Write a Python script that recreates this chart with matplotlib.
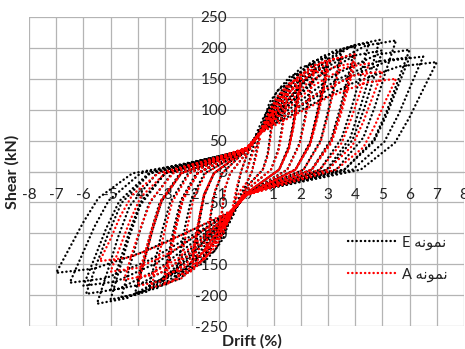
import matplotlib
matplotlib.use("Agg")
import matplotlib.pyplot as plt
import numpy as np

# ---- data: hysteresis cycles (drift %, shear kN), vertices ----
# Specimen E (black)
E_c01 = [(0, 0), (0.25, 40), (0.5, 70), (0.35, 30), (0.2, 0), (0, -20), (-0.25, -40), (-0.5, -70), (-0.35, -30), (-0.2, 0)]
E_c02 = [(0, 25), (0.3, 55), (0.6, 85), (0.85, 105), (1.0, 110), (0.93, 82), (0.86, 55), (0.78, 29), (0.6, 3),
         (0, -25), (-0.3, -53), (-0.6, -81), (-0.85, -100), (-1.0, -105), (-0.93, -79), (-0.86, -52), (-0.78, -27), (-0.6, -3)]
E_c03 = [(0, 30), (0.5, 65), (0.85, 112), (1.2, 134), (1.5, 140), (1.4, 105), (1.3, 70), (1.17, 36), (0.9, 3),
         (0, -30), (-0.5, -63), (-0.85, -108), (-1.2, -130), (-1.5, -135), (-1.4, -101), (-1.3, -68), (-1.17, -35), (-0.9, -3)]
E_c04 = [(0, 35), (0.5, 65), (1.1, 128), (1.6, 154), (2.0, 160), (1.86, 120), (1.72, 80), (1.56, 42), (1.2, 3),
         (0, -35), (-0.5, -65), (-1.1, -124), (-1.6, -149), (-2.0, -155), (-1.86, -116), (-1.72, -78), (-1.56, -40), (-1.2, -3)]
E_c05 = [(0, 35), (0.5, 62), (1.1, 118), (1.6, 142), (2.0, 148), (1.86, 111), (1.72, 74), (1.56, 38), (1.2, 3),
         (0, -35), (-0.5, -62), (-1.1, -114), (-1.6, -137), (-2.0, -143), (-1.86, -107), (-1.72, -72), (-1.56, -37), (-1.2, -3)]
E_c06 = [(0, 35), (0.5, 65), (1.4, 140), (2.0, 168), (2.5, 175), (2.33, 131), (2.15, 88), (1.95, 46), (1.5, 3),
         (0, -35), (-0.5, -65), (-1.45, -136), (-2.1, -163), (-2.6, -170), (-2.42, -128), (-2.24, -85), (-2.03, -44), (-1.55, -3)]
E_c07 = [(0, 35), (0.5, 65), (1.65, 148), (2.4, 178), (3.0, 185), (2.8, 139), (2.58, 93), (2.34, 48), (1.8, 3),
         (0, -35), (-0.5, -65), (-1.7, -146), (-2.5, -175), (-3.1, -182), (-2.88, -137), (-2.67, -91), (-2.42, -47), (-1.85, -3)]
E_c08 = [(0, 35), (0.5, 62), (1.65, 136), (2.4, 163), (3.0, 170), (2.8, 128), (2.58, 85), (2.34, 44), (1.8, 3),
         (0, -35), (-0.5, -62), (-1.65, -134), (-2.4, -161), (-3.0, -168), (-2.8, -126), (-2.58, -84), (-2.34, -44), (-1.8, -3)]
E_c09 = [(0, 35), (0.5, 65), (1.9, 156), (2.8, 187), (3.5, 195), (3.25, 146), (3.0, 98), (2.73, 51), (2.1, 3),
         (0, -35), (-0.5, -65), (-2.0, -152), (-2.9, -182), (-3.6, -190), (-3.35, -143), (-3.1, -95), (-2.8, -49), (-2.15, -3)]
E_c10 = [(0, 35), (0.5, 65), (2.2, 162), (3.2, 195), (4.0, 203), (3.72, 152), (3.44, 102), (3.12, 53), (2.4, 3),
         (0, -35), (-0.5, -65), (-2.25, -158), (-3.3, -189), (-4.1, -197), (-3.8, -148), (-3.52, -99), (-3.2, -51), (-2.45, -3)]
E_c11 = [(0, 35), (0.5, 62), (2.2, 150), (3.2, 180), (4.0, 188), (3.72, 141), (3.44, 94), (3.12, 49), (2.4, 3),
         (0, -35), (-0.5, -62), (-2.2, -146), (-3.2, -176), (-4.0, -183), (-3.72, -137), (-3.44, -92), (-3.12, -48), (-2.4, -3)]
E_c12 = [(0, 35), (0.5, 65), (2.5, 166), (3.6, 200), (4.5, 208), (4.2, 156), (3.87, 104), (3.5, 54), (2.7, 3),
         (0, -35), (-0.5, -65), (-2.55, -162), (-3.7, -195), (-4.6, -203), (-4.28, -152), (-3.96, -102), (-3.6, -53), (-2.75, -3)]
E_c13 = [(0, 35), (0.5, 65), (2.7, 170), (3.9, 204), (4.9, 213), (4.56, 160), (4.2, 106), (3.82, 55), (2.95, 3),
         (0, -35), (-0.5, -65), (-2.75, -166), (-4.0, -199), (-5.0, -207), (-4.65, -155), (-4.3, -104), (-3.9, -54), (-3.0, -3)]
E_c14 = [(0, 35), (0.5, 62), (2.75, 157), (4.0, 188), (5.0, 196), (4.65, 147), (4.3, 98), (3.9, 51), (3.0, 3),
         (0, -35), (-0.5, -62), (-2.75, -154), (-4.0, -184), (-5.0, -192), (-4.65, -144), (-4.3, -96), (-3.9, -50), (-3.0, -3)]
E_c15 = [(0, 35), (0.5, 65), (3.0, 170), (4.4, 204), (5.5, 212), (5.1, 159), (4.73, 106), (4.3, 55), (3.3, 3),
         (0, -35), (-0.5, -65), (-3.0, -171), (-4.4, -205), (-5.5, -214), (-5.1, -160), (-4.73, -107), (-4.3, -56), (-3.3, -3)]
E_c16 = [(0, 35), (0.5, 65), (3.3, 158), (4.8, 189), (6.0, 197), (5.58, 148), (5.16, 98), (4.68, 51), (3.6, 3),
         (0, -35), (-0.5, -65), (-3.25, -158), (-4.7, -190), (-5.9, -198), (-5.5, -148), (-5.07, -99), (-4.6, -51), (-3.55, -3)]
E_c17 = [(0, 35), (0.5, 62), (3.3, 148), (4.8, 178), (6.0, 185), (5.58, 139), (5.16, 92), (4.68, 48), (3.6, 3),
         (0, -35), (-0.5, -62), (-3.3, -148), (-4.8, -178), (-6.0, -185), (-5.58, -139), (-5.16, -92), (-4.68, -48), (-3.6, -3)]
E_c18 = [(0, 35), (0.5, 65), (3.6, 149), (5.2, 179), (6.5, 186), (6.05, 140), (5.6, 93), (5.07, 48), (3.9, 3),
         (0, -35), (-0.5, -65), (-3.6, -144), (-5.2, -173), (-6.5, -180), (-6.05, -135), (-5.6, -90), (-5.07, -47), (-3.9, -3)]
E_c19 = [(0, 35), (0.5, 65), (3.85, 142), (5.6, 170), (7.0, 177), (6.5, 133), (6.0, 88), (5.45, 46), (4.2, 3),
         (0, -35), (-0.5, -65), (-3.85, -131), (-5.6, -157), (-7.0, -164), (-6.5, -123), (-6.0, -82), (-5.45, -43), (-4.2, -3),
         (0, 30)]

# Specimen A (red)
A_c01 = [(0, 0), (0.25, 32), (0.5, 55), (0.35, 24), (0.2, 0), (0, -18), (-0.25, -32), (-0.5, -55), (-0.35, -24), (-0.2, 0)]
A_c02 = [(0, 25), (0.3, 50), (0.6, 75), (0.85, 91), (1.0, 95), (0.93, 71), (0.86, 48), (0.78, 25), (0.6, 3),
         (0, -25), (-0.3, -50), (-0.6, -75), (-0.85, -91), (-1.0, -95), (-0.93, -71), (-0.86, -48), (-0.78, -25), (-0.6, -3)]
A_c03 = [(0, 30), (0.5, 62), (0.85, 100), (1.2, 120), (1.5, 125), (1.4, 94), (1.3, 62), (1.17, 32), (0.9, 3),
         (0, -30), (-0.5, -62), (-0.85, -100), (-1.2, -120), (-1.5, -125), (-1.4, -94), (-1.3, -62), (-1.17, -32), (-0.9, -3)]
A_c04 = [(0, 35), (0.5, 62), (1.1, 120), (1.6, 144), (2.0, 150), (1.86, 112), (1.72, 75), (1.56, 39), (1.2, 3),
         (0, -35), (-0.5, -62), (-1.1, -120), (-1.6, -144), (-2.0, -150), (-1.86, -112), (-1.72, -75), (-1.56, -39), (-1.2, -3)]
A_c05 = [(0, 35), (0.5, 60), (1.1, 110), (1.6, 132), (2.0, 138), (1.86, 103), (1.72, 69), (1.56, 36), (1.2, 3),
         (0, -35), (-0.5, -60), (-1.1, -110), (-1.6, -132), (-2.0, -138), (-1.86, -103), (-1.72, -69), (-1.56, -36), (-1.2, -3)]
A_c06 = [(0, 38), (0.5, 62), (1.4, 132), (2.0, 158), (2.5, 165), (2.33, 124), (2.15, 82), (1.95, 43), (1.5, 3),
         (0, -38), (-0.5, -62), (-1.4, -134), (-2.0, -161), (-2.5, -168), (-2.33, -126), (-2.15, -84), (-1.95, -44), (-1.5, -3)]
A_c07 = [(0, 38), (0.5, 62), (1.65, 142), (2.4, 171), (3.0, 178), (2.8, 133), (2.58, 89), (2.34, 46), (1.8, 3),
         (0, -38), (-0.5, -62), (-1.65, -144), (-2.4, -173), (-3.0, -180), (-2.8, -135), (-2.58, -90), (-2.34, -47), (-1.8, -3)]
A_c08 = [(0, 38), (0.5, 60), (1.65, 132), (2.4, 158), (3.0, 165), (2.8, 124), (2.58, 82), (2.34, 43), (1.8, 3),
         (0, -38), (-0.5, -60), (-1.65, -133), (-2.4, -159), (-3.0, -166), (-2.8, -125), (-2.58, -83), (-2.34, -43), (-1.8, -3)]
A_c09 = [(0, 38), (0.5, 62), (1.9, 148), (2.8, 178), (3.5, 185), (3.25, 139), (3.0, 92), (2.73, 48), (2.1, 3),
         (0, -38), (-0.5, -62), (-1.9, -150), (-2.8, -180), (-3.5, -188), (-3.25, -141), (-3.0, -94), (-2.73, -49), (-2.1, -3)]
A_c10 = [(0, 38), (0.5, 62), (2.2, 152), (3.2, 182), (4.0, 190), (3.72, 142), (3.44, 95), (3.12, 49), (2.4, 3),
         (0, -38), (-0.5, -62), (-2.2, -148), (-3.2, -178), (-4.0, -185), (-3.72, -139), (-3.44, -92), (-3.12, -48), (-2.4, -3)]
A_c11 = [(0, 38), (0.5, 60), (2.2, 141), (3.2, 169), (4.0, 176), (3.72, 132), (3.44, 88), (3.12, 46), (2.4, 3),
         (0, -38), (-0.5, -60), (-2.2, -138), (-3.2, -165), (-4.0, -172), (-3.72, -129), (-3.44, -86), (-3.12, -45), (-2.4, -3)]
A_c12 = [(0, 38), (0.5, 62), (2.5, 140), (3.6, 168), (4.5, 175), (4.2, 131), (3.87, 88), (3.5, 46), (2.7, 3),
         (0, -38), (-0.5, -62), (-2.5, -140), (-3.6, -168), (-4.5, -175), (-4.2, -131), (-3.87, -88), (-3.5, -46), (-2.7, -3)]
A_c13 = [(0, 38), (0.5, 62), (2.75, 130), (4.0, 156), (5.0, 162), (4.65, 122), (4.3, 81), (3.9, 42), (3.0, 3),
         (0, -38), (-0.5, -62), (-2.75, -130), (-4.0, -156), (-5.0, -162), (-4.65, -122), (-4.3, -81), (-3.9, -42), (-3.0, -3)]
A_c14 = [(0, 38), (0.5, 62), (3.0, 120), (4.4, 144), (5.5, 150), (5.1, 113), (4.73, 75), (4.3, 39), (3.3, 3),
         (0, -38), (-0.5, -62), (-3.0, -116), (-4.3, -139), (-5.4, -145), (-5.0, -109), (-4.65, -73), (-4.2, -38), (-3.25, -3),
         (0, 35)]

E_cycles = [E_c01, E_c02, E_c03, E_c04, E_c05, E_c06, E_c07, E_c08, E_c09, E_c10,
            E_c11, E_c12, E_c13, E_c14, E_c15, E_c16, E_c17, E_c18, E_c19]
A_cycles = [A_c01, A_c02, A_c03, A_c04, A_c05, A_c06, A_c07, A_c08, A_c09, A_c10,
            A_c11, A_c12, A_c13, A_c14]

x_ticks = [-8, -7, -6, -5, -4, -3, -2, -1, 0, 1, 2, 3, 4, 5, 6, 7, 8]
y_ticks = [-250, -200, -150, -100, -50, 0, 50, 100, 150, 200, 250]
label_E = "E \uFEEA\uFEE7\uFEEE\uFEE4\uFEE7"   # نمونه E (visual order)
label_A = "A \uFEEA\uFEE7\uFEEE\uFEE4\uFEE7"   # نمونه A (visual order)

plt.rcParams['font.family'] = ['Lato', 'DejaVu Sans']

E_path = np.array([p for c in E_cycles for p in c], dtype=float)
A_path = np.array([p for c in A_cycles for p in c], dtype=float)

fig = plt.figure(figsize=(4.65, 3.49), dpi=100)
ax = fig.add_axes([29/465, 1 - 326/349, 435/465, 309/349])

dot = (0, (0.1, 1.7))
ax.plot(E_path[:, 0], E_path[:, 1], color='black', lw=1.7, linestyle=dot,
        dash_capstyle='round', solid_joinstyle='round', label=label_E, zorder=3)
ax.plot(A_path[:, 0], A_path[:, 1], color='#FF0000', lw=1.7, linestyle=dot,
        dash_capstyle='round', solid_joinstyle='round', label=label_A, zorder=4)

ax.set_xlim(-8, 8)
ax.set_ylim(-250, 250)
ax.set_xticks(x_ticks)
ax.set_yticks(y_ticks)
ax.set_xticklabels([str(v) for v in x_ticks])
ax.set_yticklabels([str(v) for v in y_ticks])
ax.grid(True, color='#B4B4B4', lw=0.9)
ax.set_axisbelow(True)
for s in ['top', 'right']:
    ax.spines[s].set_visible(False)
ax.spines['left'].set_position(('data', 0))
ax.spines['bottom'].set_position(('data', 0))
ax.spines['left'].set_color('#B4B4B4')
ax.spines['bottom'].set_color('#B4B4B4')
ax.tick_params(axis='x', length=0, pad=12, labelsize=11, colors='#222222')
ax.tick_params(axis='y', length=0, pad=14, labelsize=11, colors='#222222')
ax.patch.set_alpha(0)

fig.text(12/465, 1 - 172/349, 'Shear (kN)', rotation=90, fontsize=11.5,
         fontweight='bold', ha='center', va='center', color='#222222')
fig.text(252/465, 1 - 341/349, 'Drift (%)', fontsize=11.5,
         fontweight='bold', ha='center', va='center', color='#222222')

leg = ax.legend(loc='center left', bbox_to_anchor=(342/465, 1 - 258.5/349),
                bbox_transform=fig.transFigure, frameon=False, fontsize=10.5,
                handlelength=3.2, handletextpad=0.5, labelspacing=1.2,
                borderaxespad=0)
for t in leg.get_texts():
    t.set_color('#222222')

fig.savefig('out.png', dpi=100)
